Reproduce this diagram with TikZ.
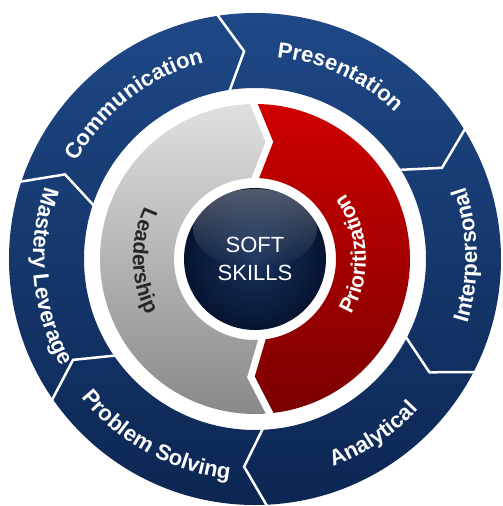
\documentclass[tikz,border=0pt]{standalone}
\usepackage{fontspec}
\setmainfont{Liberation Sans}
\usetikzlibrary{decorations.text, fadings}

\definecolor{ringtop}{RGB}{30,72,134}
\definecolor{ringbot}{RGB}{12,38,82}
\definecolor{redtop}{RGB}{208,0,0}
\definecolor{redbot}{RGB}{122,0,0}
\definecolor{graytop}{RGB}{224,224,224}
\definecolor{graybot}{RGB}{136,136,136}
\definecolor{corein}{RGB}{26,50,94}
\definecolor{coreout}{RGB}{6,20,48}
\definecolor{inktext}{RGB}{38,38,38}

\newcommand{\ringfont}{\fontsize{22}{26}\selectfont\bfseries\color{white}}
\newcommand{\labelfont}{\fontsize{21}{25}\selectfont\bfseries}
\newcommand{\innerfont}{\fontsize{22}{28}\selectfont}

\begin{document}
\begin{tikzpicture}[x=1pt, y=1pt,
    seam/.style={white, line width=2.5pt, line join=miter},
    gap/.style={white, line width=7pt, line join=miter},
    ringtext/.style={decorate, decoration={text along path, text align=center, text={|\ringfont|#1}}}]
        % Parameters
        \def\Rout{246pt}
        \def\Rin{171pt}
        \def\Rmid{208pt}
        \def\rout{155pt}
        \def\rin{81pt}
        \def\rmid{118pt}
        \def\rcore{71pt}
        \def\tip{6} % degrees

        % Canvas
        \useasboundingbox (-255,-247) rectangle (248,259);
        \fill[white] (-255,-247) rectangle (248,259);

        % Outer ring
        \shade[top color=ringtop, bottom color=ringbot, even odd rule] (0,0) circle (\Rout) (0,0) circle (\Rin);
        \foreach \b in {99,32,-27,-87,-145,162}
            \draw[seam] ({\b}:{\Rout+3pt}) -- ({\b-\tip}:\Rmid) -- ({\b}:{\Rin-3pt});

        % Outer labels
        \path[ringtext=Communication] (168:203pt) arc (168:88:203pt);
        \path[ringtext=Presentation] (105:203pt) arc (105:25:203pt);
        \path[ringtext=Interpersonal] (-39:222pt) arc (-39:41:222pt);
        \path[ringtext=Analytical] (-96:222pt) arc (-96:-16:222pt);
        \path[ringtext=Problem Solving] (-164:222pt) arc (-164:-74:222pt);
        \path[ringtext=Mastery Leverage] (140:222pt) arc (140:230:222pt);

        % Inner ring
        \shade[top color=graytop, bottom color=graybot]
            (91:\rout) arc (91:276:\rout) -- (268:\rmid) -- (276:\rin) arc (276:91:\rin) -- (83:\rmid) -- cycle;
        \shade[top color=redtop, bottom color=redbot]
            (-84:\rout) arc (-84:91:\rout) -- (83:\rmid) -- (91:\rin) arc (91:-84:\rin) -- (-92:\rmid) -- cycle;
        \draw[gap] (91:{\rout+4pt}) -- (83:\rmid) -- (91:{\rin-4pt});
        \draw[gap] (-84:{\rout+4pt}) -- (-92:\rmid) -- (-84:{\rin-4pt});

        % Inner labels
        \path[decorate, decoration={text along path, text align=center,
            text={|\labelfont\color{inktext}|Leadership}}] (136:122pt) arc (136:226:122pt);
        \path[decorate, decoration={text along path, text align=center,
            text={|\labelfont\color{white}|Prioritization}}] (-42:111pt) arc (-42:48:111pt);

        % Core
        \shade[inner color=corein, outer color=coreout] (0,0) circle (\rcore);
        \fill[white, fill opacity=0.3, path fading=south] (0,30) ellipse (62 and 40);
        \node[align=center, text=white, font=\innerfont, inner sep=0pt] (core) at (0,0) {SOFT\\SKILLS};

    \end{tikzpicture}
\end{document}
